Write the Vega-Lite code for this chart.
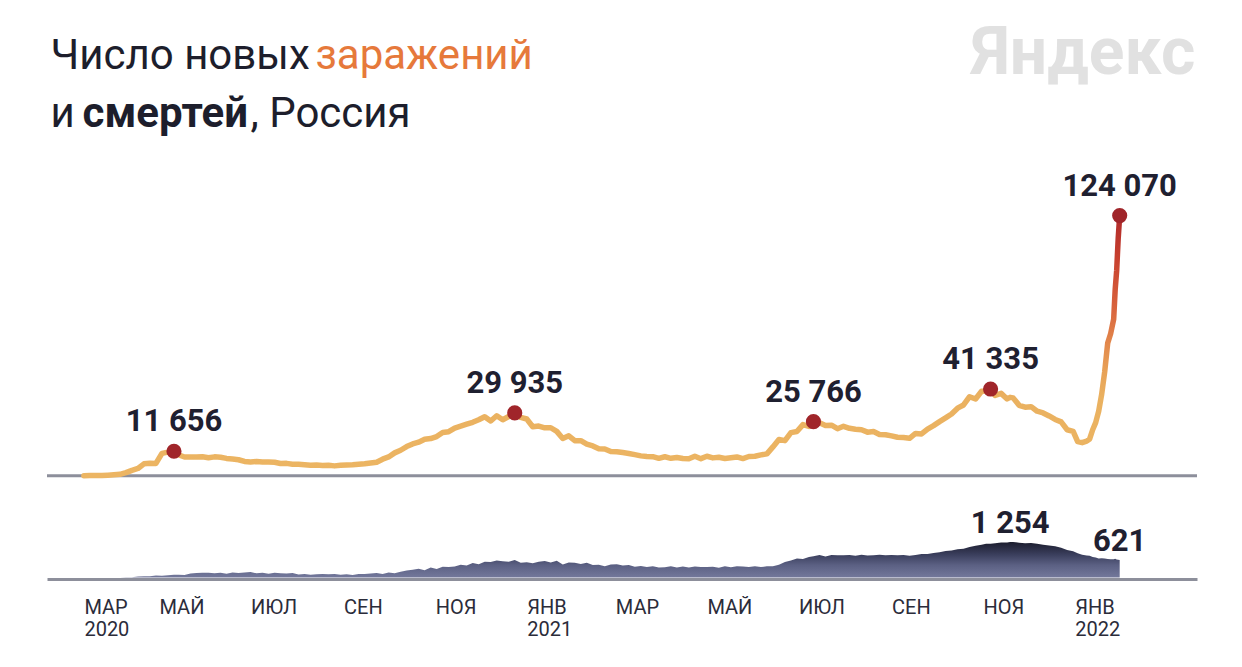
{
  "$schema": "https://vega.github.io/schema/vega-lite/v6.json",
  "width": 1150,
  "height": 419,
  "autosize": {"type": "none"},
  "padding": {"left": 47, "top": 160, "right": 45, "bottom": 88},
  "background": "white",
  "config": {
    "view": {"stroke": null},
    "font": "Roboto",
    "axis": {"grid": false, "domain": false, "ticks": false, "labelFont": "Roboto", "titleFont": "Roboto"}
  },
  "datasets": {
    "daily": [
      {"date": "2020-03-12", "cases": 6, "deaths": 0},
      {"date": "2020-03-16", "cases": 30, "deaths": 0},
      {"date": "2020-03-20", "cases": 54, "deaths": 0},
      {"date": "2020-03-24", "cases": 71, "deaths": 1},
      {"date": "2020-03-28", "cases": 228, "deaths": 1},
      {"date": "2020-04-01", "cases": 440, "deaths": 2},
      {"date": "2020-04-05", "cases": 658, "deaths": 4},
      {"date": "2020-04-09", "cases": 1459, "deaths": 7},
      {"date": "2020-04-13", "cases": 2558, "deaths": 12},
      {"date": "2020-04-17", "cases": 3448, "deaths": 31},
      {"date": "2020-04-21", "cases": 5642, "deaths": 40},
      {"date": "2020-04-25", "cases": 5966, "deaths": 42},
      {"date": "2020-04-29", "cases": 5841, "deaths": 72},
      {"date": "2020-05-03", "cases": 10633, "deaths": 58},
      {"date": "2020-05-07", "cases": 11231, "deaths": 76},
      {"date": "2020-05-11", "cases": 11656, "deaths": 94},
      {"date": "2020-05-14", "cases": 9974, "deaths": 93},
      {"date": "2020-05-18", "cases": 8926, "deaths": 91},
      {"date": "2020-05-22", "cases": 8894, "deaths": 141},
      {"date": "2020-05-26", "cases": 8915, "deaths": 162},
      {"date": "2020-05-30", "cases": 9009, "deaths": 171},
      {"date": "2020-06-03", "cases": 8536, "deaths": 170},
      {"date": "2020-06-07", "cases": 8984, "deaths": 150},
      {"date": "2020-06-11", "cases": 8779, "deaths": 168},
      {"date": "2020-06-15", "cases": 8246, "deaths": 135},
      {"date": "2020-06-19", "cases": 7972, "deaths": 175},
      {"date": "2020-06-23", "cases": 7600, "deaths": 160},
      {"date": "2020-06-27", "cases": 6800, "deaths": 176},
      {"date": "2020-07-01", "cases": 6556, "deaths": 190},
      {"date": "2020-07-05", "cases": 6736, "deaths": 150},
      {"date": "2020-07-09", "cases": 6509, "deaths": 170},
      {"date": "2020-07-13", "cases": 6537, "deaths": 130},
      {"date": "2020-07-17", "cases": 6406, "deaths": 172},
      {"date": "2020-07-21", "cases": 5842, "deaths": 148},
      {"date": "2020-07-25", "cases": 5871, "deaths": 145},
      {"date": "2020-07-29", "cases": 5475, "deaths": 155},
      {"date": "2020-08-02", "cases": 5427, "deaths": 105},
      {"date": "2020-08-06", "cases": 5241, "deaths": 125},
      {"date": "2020-08-10", "cases": 4945, "deaths": 100},
      {"date": "2020-08-14", "cases": 5065, "deaths": 114},
      {"date": "2020-08-18", "cases": 4828, "deaths": 121},
      {"date": "2020-08-22", "cases": 4921, "deaths": 118},
      {"date": "2020-08-26", "cases": 4676, "deaths": 124},
      {"date": "2020-08-30", "cases": 4980, "deaths": 98},
      {"date": "2020-09-03", "cases": 5110, "deaths": 115},
      {"date": "2020-09-07", "cases": 5185, "deaths": 90},
      {"date": "2020-09-11", "cases": 5406, "deaths": 125},
      {"date": "2020-09-15", "cases": 5670, "deaths": 128},
      {"date": "2020-09-19", "cases": 6065, "deaths": 140},
      {"date": "2020-09-23", "cases": 6431, "deaths": 155},
      {"date": "2020-09-27", "cases": 7867, "deaths": 125},
      {"date": "2020-10-01", "cases": 8945, "deaths": 175},
      {"date": "2020-10-05", "cases": 10888, "deaths": 150},
      {"date": "2020-10-09", "cases": 12126, "deaths": 201},
      {"date": "2020-10-13", "cases": 13868, "deaths": 244},
      {"date": "2020-10-17", "cases": 15150, "deaths": 270},
      {"date": "2020-10-21", "cases": 15971, "deaths": 310},
      {"date": "2020-10-25", "cases": 17347, "deaths": 260},
      {"date": "2020-10-29", "cases": 17717, "deaths": 350},
      {"date": "2020-11-02", "cases": 18665, "deaths": 300},
      {"date": "2020-11-06", "cases": 20582, "deaths": 378},
      {"date": "2020-11-10", "cases": 20977, "deaths": 368},
      {"date": "2020-11-14", "cases": 22702, "deaths": 391},
      {"date": "2020-11-18", "cases": 23610, "deaths": 450},
      {"date": "2020-11-22", "cases": 24581, "deaths": 420},
      {"date": "2020-11-26", "cases": 25487, "deaths": 510},
      {"date": "2020-11-30", "cases": 26683, "deaths": 470},
      {"date": "2020-12-04", "cases": 28145, "deaths": 560},
      {"date": "2020-12-08", "cases": 26097, "deaths": 550},
      {"date": "2020-12-12", "cases": 28585, "deaths": 600},
      {"date": "2020-12-16", "cases": 26689, "deaths": 575},
      {"date": "2020-12-20", "cases": 28209, "deaths": 555},
      {"date": "2020-12-24", "cases": 29935, "deaths": 620},
      {"date": "2020-12-28", "cases": 27787, "deaths": 520},
      {"date": "2021-01-01", "cases": 27029, "deaths": 540},
      {"date": "2021-01-05", "cases": 23351, "deaths": 500},
      {"date": "2021-01-09", "cases": 23652, "deaths": 560},
      {"date": "2021-01-13", "cases": 22850, "deaths": 585},
      {"date": "2021-01-17", "cases": 22857, "deaths": 530},
      {"date": "2021-01-21", "cases": 21127, "deaths": 590},
      {"date": "2021-01-25", "cases": 17741, "deaths": 460},
      {"date": "2021-01-29", "cases": 19032, "deaths": 530},
      {"date": "2021-02-02", "cases": 16714, "deaths": 520},
      {"date": "2021-02-06", "cases": 16688, "deaths": 480},
      {"date": "2021-02-10", "cases": 15038, "deaths": 520},
      {"date": "2021-02-14", "cases": 14185, "deaths": 440},
      {"date": "2021-02-18", "cases": 12828, "deaths": 450},
      {"date": "2021-02-22", "cases": 12742, "deaths": 400},
      {"date": "2021-02-26", "cases": 11534, "deaths": 460},
      {"date": "2021-03-02", "cases": 11385, "deaths": 470},
      {"date": "2021-03-06", "cases": 11022, "deaths": 420},
      {"date": "2021-03-10", "cases": 10595, "deaths": 440},
      {"date": "2021-03-14", "cases": 10052, "deaths": 380},
      {"date": "2021-03-18", "cases": 9445, "deaths": 410},
      {"date": "2021-03-22", "cases": 9149, "deaths": 370},
      {"date": "2021-03-26", "cases": 9073, "deaths": 395},
      {"date": "2021-03-30", "cases": 8277, "deaths": 355},
      {"date": "2021-04-03", "cases": 9028, "deaths": 360},
      {"date": "2021-04-07", "cases": 8294, "deaths": 395},
      {"date": "2021-04-11", "cases": 8702, "deaths": 350},
      {"date": "2021-04-15", "cases": 8173, "deaths": 390},
      {"date": "2021-04-19", "cases": 8053, "deaths": 355},
      {"date": "2021-04-23", "cases": 9284, "deaths": 390},
      {"date": "2021-04-27", "cases": 8114, "deaths": 370},
      {"date": "2021-05-01", "cases": 9270, "deaths": 372},
      {"date": "2021-05-05", "cases": 8487, "deaths": 378},
      {"date": "2021-05-09", "cases": 8790, "deaths": 345},
      {"date": "2021-05-13", "cases": 8217, "deaths": 395},
      {"date": "2021-05-17", "cases": 8554, "deaths": 360},
      {"date": "2021-05-21", "cases": 8951, "deaths": 395},
      {"date": "2021-05-25", "cases": 8145, "deaths": 390},
      {"date": "2021-05-29", "cases": 9145, "deaths": 370},
      {"date": "2021-06-02", "cases": 9288, "deaths": 395},
      {"date": "2021-06-06", "cases": 9924, "deaths": 370},
      {"date": "2021-06-10", "cases": 10407, "deaths": 396},
      {"date": "2021-06-14", "cases": 13721, "deaths": 400},
      {"date": "2021-06-18", "cases": 17262, "deaths": 453},
      {"date": "2021-06-22", "cases": 16715, "deaths": 546},
      {"date": "2021-06-26", "cases": 20538, "deaths": 601},
      {"date": "2021-06-30", "cases": 21042, "deaths": 672},
      {"date": "2021-07-04", "cases": 24353, "deaths": 654},
      {"date": "2021-07-08", "cases": 23508, "deaths": 726},
      {"date": "2021-07-11", "cases": 25766, "deaths": 749},
      {"date": "2021-07-15", "cases": 25293, "deaths": 791},
      {"date": "2021-07-19", "cases": 23962, "deaths": 738},
      {"date": "2021-07-23", "cases": 24072, "deaths": 795},
      {"date": "2021-07-27", "cases": 22420, "deaths": 786},
      {"date": "2021-07-31", "cases": 23564, "deaths": 789},
      {"date": "2021-08-04", "cases": 22589, "deaths": 792},
      {"date": "2021-08-08", "cases": 22160, "deaths": 770},
      {"date": "2021-08-12", "cases": 21932, "deaths": 808},
      {"date": "2021-08-16", "cases": 20765, "deaths": 781},
      {"date": "2021-08-20", "cases": 21058, "deaths": 788},
      {"date": "2021-08-24", "cases": 19630, "deaths": 800},
      {"date": "2021-08-28", "cases": 19509, "deaths": 783},
      {"date": "2021-09-01", "cases": 18985, "deaths": 795},
      {"date": "2021-09-05", "cases": 18341, "deaths": 786},
      {"date": "2021-09-09", "cases": 18172, "deaths": 796},
      {"date": "2021-09-13", "cases": 17837, "deaths": 767},
      {"date": "2021-09-17", "cases": 20174, "deaths": 799},
      {"date": "2021-09-21", "cases": 19904, "deaths": 828},
      {"date": "2021-09-25", "cases": 22236, "deaths": 828},
      {"date": "2021-09-29", "cases": 23888, "deaths": 867},
      {"date": "2021-10-03", "cases": 25781, "deaths": 890},
      {"date": "2021-10-07", "cases": 27550, "deaths": 936},
      {"date": "2021-10-11", "cases": 29409, "deaths": 957},
      {"date": "2021-10-15", "cases": 32196, "deaths": 999},
      {"date": "2021-10-19", "cases": 33740, "deaths": 1015},
      {"date": "2021-10-23", "cases": 37678, "deaths": 1075},
      {"date": "2021-10-27", "cases": 36582, "deaths": 1123},
      {"date": "2021-10-31", "cases": 40251, "deaths": 1158},
      {"date": "2021-11-03", "cases": 40402, "deaths": 1195},
      {"date": "2021-11-06", "cases": 41335, "deaths": 1188},
      {"date": "2021-11-09", "cases": 38263, "deaths": 1211},
      {"date": "2021-11-13", "cases": 39256, "deaths": 1235},
      {"date": "2021-11-17", "cases": 36626, "deaths": 1240},
      {"date": "2021-11-19", "cases": 37374, "deaths": 1254},
      {"date": "2021-11-21", "cases": 37120, "deaths": 1252},
      {"date": "2021-11-25", "cases": 33558, "deaths": 1230},
      {"date": "2021-11-29", "cases": 32648, "deaths": 1209},
      {"date": "2021-12-03", "cases": 32930, "deaths": 1217},
      {"date": "2021-12-07", "cases": 30752, "deaths": 1191},
      {"date": "2021-12-11", "cases": 29929, "deaths": 1160},
      {"date": "2021-12-15", "cases": 28486, "deaths": 1134},
      {"date": "2021-12-19", "cases": 26821, "deaths": 1100},
      {"date": "2021-12-23", "cases": 25667, "deaths": 1048},
      {"date": "2021-12-27", "cases": 21922, "deaths": 975},
      {"date": "2021-12-31", "cases": 21155, "deaths": 930},
      {"date": "2022-01-03", "cases": 16246, "deaths": 860},
      {"date": "2022-01-06", "cases": 15763, "deaths": 800},
      {"date": "2022-01-09", "cases": 16474, "deaths": 773},
      {"date": "2022-01-11", "cases": 17525, "deaths": 768},
      {"date": "2022-01-13", "cases": 21921, "deaths": 727},
      {"date": "2022-01-15", "cases": 25324, "deaths": 709},
      {"date": "2022-01-17", "cases": 30726, "deaths": 670},
      {"date": "2022-01-19", "cases": 38850, "deaths": 683},
      {"date": "2022-01-21", "cases": 49513, "deaths": 668},
      {"date": "2022-01-23", "cases": 63205, "deaths": 651},
      {"date": "2022-01-25", "cases": 67809, "deaths": 643},
      {"date": "2022-01-27", "cases": 74692, "deaths": 642},
      {"date": "2022-01-28", "cases": 88816, "deaths": 664},
      {"date": "2022-01-29", "cases": 98040, "deaths": 640},
      {"date": "2022-01-30", "cases": 113122, "deaths": 630},
      {"date": "2022-01-31", "cases": 124070, "deaths": 621}
    ],
    "peaks": [
      {"date": "2020-05-11", "cases": 11656, "label": "11 656"},
      {"date": "2020-12-24", "cases": 29935, "label": "29 935"},
      {"date": "2021-07-11", "cases": 25766, "label": "25 766"},
      {"date": "2021-11-06", "cases": 41335, "label": "41 335"},
      {"date": "2022-01-31", "cases": 124070, "label": "124 070"}
    ],
    "deathLabels": [
      {"date": "2021-11-19", "deaths": 1254, "label": "1 254"},
      {"date": "2022-01-31", "deaths": 621, "label": "621"}
    ],
    "origin": [{"value": 0}]
  },
  "layer": [
    {
      "layer": [
        {
          "data": {"name": "origin"},
          "mark": {"type": "rule", "stroke": "#8d8f9b", "strokeWidth": 3},
          "encoding": {
            "y": {
              "field": "value", "type": "quantitative",
              "scale": {"domain": [-49290, 150598], "nice": false, "zero": false},
              "axis": {
                "orient": "left", "labels": false, "ticks": false, "domain": false, "grid": false,
                "title": ["Число новых", "и"],
                "titleX": 3, "titleY": -92, "titleAngle": 0, "titleAlign": "left", "titleBaseline": "alphabetic",
                "titleFont": "Roboto", "titleFontSize": 42, "titleFontWeight": "normal", "titleColor": "#1d1e2c", "titleLineHeight": 58
              }
            }
          }
        },
        {
          "data": {"name": "daily"},
          "mark": {
            "type": "line", "strokeWidth": 5.5, "strokeCap": "round", "strokeJoin": "round",
            "stroke": {
              "gradient": "linear", "x1": 0, "y1": 1, "x2": 0, "y2": 0,
              "stops": [
                {"offset": 0, "color": "#ecb563"},
                {"offset": 0.3, "color": "#eab160"},
                {"offset": 0.4, "color": "#e8a257"},
                {"offset": 0.5, "color": "#e38a4c"},
                {"offset": 0.64, "color": "#d9653e"},
                {"offset": 0.83, "color": "#c8412f"},
                {"offset": 1, "color": "#b02a2a"}
              ]
            }
          },
          "encoding": {
            "x": {
              "field": "date", "type": "temporal",
              "scale": {"type": "utc", "domain": [{"year": 2020, "month": 2, "date": 16, "hours": 10, "utc": true}, {"year": 2022, "month": 3, "date": 23, "hours": 12, "utc": true}]},
              "axis": {
                "values": [
                  {"year": 2020, "month": 3, "date": 12, "utc": true},
                  {"year": 2020, "month": 5, "date": 1, "utc": true},
                  {"year": 2020, "month": 7, "date": 1, "utc": true},
                  {"year": 2020, "month": 9, "date": 1, "utc": true},
                  {"year": 2020, "month": 11, "date": 1, "utc": true},
                  {"year": 2021, "month": 1, "date": 1, "utc": true},
                  {"year": 2021, "month": 3, "date": 1, "utc": true},
                  {"year": 2021, "month": 5, "date": 1, "utc": true},
                  {"year": 2021, "month": 7, "date": 1, "utc": true},
                  {"year": 2021, "month": 9, "date": 1, "utc": true},
                  {"year": 2021, "month": 11, "date": 1, "utc": true},
                  {"year": 2022, "month": 1, "date": 1, "utc": true}
                ],
                "labelExpr": "[['ЯНВ','ФЕВ','МАР','АПР','МАЙ','ИЮН','ИЮЛ','АВГ','СЕН','ОКТ','НОЯ','ДЕК'][utcmonth(datum.value)], (utcmonth(datum.value) == 0 || datum.index == 0) ? utcFormat(datum.value, '%Y') : '']",
                "labelAlign": "left", "labelBaseline": "top", "labelPadding": 18,
                "labelFont": "Roboto", "labelFontSize": 20, "labelColor": "#2b2c3a", "labelLineHeight": 22,
                "labelOverlap": false, "labelFlush": false, "labelBound": false,
                "domain": true, "domainColor": "#8d8f9b", "domainWidth": 3, "ticks": false, "grid": false,
                "title": "заражений",
                "titleX": 268, "titleY": -511, "titleAngle": 0, "titleAlign": "left", "titleBaseline": "alphabetic",
                "titleFont": "Roboto", "titleFontSize": 42, "titleFontWeight": "normal", "titleColor": "#e6793b"
              }
            },
            "y": {
              "field": "cases", "type": "quantitative",
              "scale": {"domain": [-49290, 150598], "nice": false, "zero": false},
              "axis": {
                "orient": "left", "labels": false, "ticks": false, "domain": false, "grid": false,
                "title": "смертей",
                "titleX": 35, "titleY": -34, "titleAngle": 0, "titleAlign": "left", "titleBaseline": "alphabetic",
                "titleFont": "Roboto", "titleFontSize": 42, "titleFontWeight": "bold", "titleColor": "#1d1e2c"
              }
            }
          }
        },
        {
          "data": {"name": "peaks"},
          "mark": {"type": "point", "filled": true, "size": 230, "color": "#a0252a", "opacity": 1},
          "encoding": {
            "x": {"field": "date", "type": "temporal", "scale": {"type": "utc", "domain": [{"year": 2020, "month": 2, "date": 16, "hours": 10, "utc": true}, {"year": 2022, "month": 3, "date": 23, "hours": 12, "utc": true}]}},
            "y": {
              "field": "cases", "type": "quantitative",
              "scale": {"domain": [-49290, 150598], "nice": false, "zero": false},
              "axis": {
                "orient": "left", "labels": false, "ticks": false, "domain": false, "grid": false,
                "title": ", Россия",
                "titleX": 203, "titleY": -34, "titleAngle": 0, "titleAlign": "left", "titleBaseline": "alphabetic",
                "titleFont": "Roboto", "titleFontSize": 42, "titleFontWeight": "normal", "titleColor": "#1d1e2c"
              }
            }
          }
        },
        {
          "data": {"name": "peaks"},
          "mark": {"type": "text", "font": "Roboto", "fontWeight": "bold", "fontSize": 31, "dy": -20, "baseline": "alphabetic", "align": "center", "color": "#1f2030"},
          "encoding": {
            "x": {"field": "date", "type": "temporal", "scale": {"type": "utc", "domain": [{"year": 2020, "month": 2, "date": 16, "hours": 10, "utc": true}, {"year": 2022, "month": 3, "date": 23, "hours": 12, "utc": true}]}},
            "y": {
              "field": "cases", "type": "quantitative",
              "scale": {"domain": [-49290, 150598], "nice": false, "zero": false},
              "axis": {
                "orient": "left", "labels": false, "ticks": false, "domain": false, "grid": false,
                "title": "Яндекс",
                "titleX": 1148, "titleY": -87, "titleAngle": 0, "titleAlign": "right", "titleBaseline": "alphabetic",
                "titleFont": "Roboto", "titleFontSize": 66, "titleFontWeight": "bold", "titleColor": "#e1e1e1"
              }
            },
            "text": {"field": "label"}
          }
        }
      ],
      "resolve": {"axis": {"y": "independent"}}
    },
    {
      "layer": [
        {
          "data": {"name": "daily"},
          "mark": {
            "type": "area",
            "fill": {
              "gradient": "linear", "x1": 0, "y1": 0, "x2": 0, "y2": 1,
              "stops": [
                {"offset": 0, "color": "#1b1d2e"},
                {"offset": 0.35, "color": "#3a3e5c"},
                {"offset": 0.65, "color": "#5b6083"},
                {"offset": 1, "color": "#73789b"}
              ]
            }
          },
          "encoding": {
            "x": {"field": "date", "type": "temporal", "scale": {"type": "utc", "domain": [{"year": 2020, "month": 2, "date": 16, "hours": 10, "utc": true}, {"year": 2022, "month": 3, "date": 23, "hours": 12, "utc": true}]}},
            "y": {"field": "deaths", "type": "quantitative", "scale": {"domain": [-53, 14748], "nice": false, "zero": false}, "axis": null}
          }
        },
        {
          "data": {"name": "deathLabels"},
          "mark": {"type": "text", "font": "Roboto", "fontWeight": "bold", "fontSize": 31, "dy": -9, "baseline": "alphabetic", "align": "center", "color": "#1f2030"},
          "encoding": {
            "x": {"field": "date", "type": "temporal", "scale": {"type": "utc", "domain": [{"year": 2020, "month": 2, "date": 16, "hours": 10, "utc": true}, {"year": 2022, "month": 3, "date": 23, "hours": 12, "utc": true}]}},
            "y": {"field": "deaths", "type": "quantitative", "scale": {"domain": [-53, 14748], "nice": false, "zero": false}, "axis": null},
            "text": {"field": "label"}
          }
        }
      ]
    }
  ],
  "resolve": {"scale": {"y": "independent"}}
}
